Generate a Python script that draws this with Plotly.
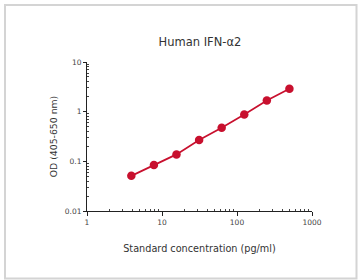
import plotly.graph_objects as go

concentration = [3.9, 7.8, 15.6, 31.25, 62.5, 125, 250, 500]
od = [0.051, 0.084, 0.138, 0.268, 0.474, 0.878, 1.68, 2.89]
x_tickvals = [1, 10, 100, 1000]
x_ticktext = ["1", "10", "100", "1000"]
y_tickvals = [0.01, 0.1, 1, 10]
y_ticktext = ["0.01", "0.1", "1", "10"]

RED = "#c8102e"
W, H = 358, 280
ML, MR, MT, MB = 87, 46, 62, 69

fig = go.Figure()
fig.add_trace(go.Scatter(
    x=concentration, y=od, mode="lines+markers",
    line=dict(color=RED, width=1.7),
    marker=dict(color=RED, size=8.5),
    showlegend=False,
))

font = "DejaVu Sans, Verdana, sans-serif"
pw = W - ML - MR
ph = H - MT - MB

fig.update_layout(
    width=W, height=H,
    margin=dict(l=ML, r=MR, t=MT, b=MB, pad=0),
    paper_bgcolor="white", plot_bgcolor="white",
    font=dict(family=font, color="#333333"),
    title=dict(text="Human IFN-α2", x=(200) / W, xanchor="center",
               y=1 - 42 / H, yanchor="middle", font=dict(size=11.5, color="#333333")),
    xaxis=dict(
        type="log", range=[0, 3], tickvals=x_tickvals, ticktext=x_ticktext,
        showline=True, linecolor="#222", linewidth=1, showgrid=False, zeroline=False,
        ticks="outside", ticklen=4, tickcolor="#222", tickfont=dict(size=7.5, color="#444"),
        minor=dict(ticks="inside", ticklen=2, tickcolor="#444", showgrid=False,
                   tickvals=[a * b for b in (1, 10, 100) for a in range(2, 10)]),
        title=dict(text="Standard concentration (pg/ml)", font=dict(size=9.7, color="#333"), standoff=19),
    ),
    yaxis=dict(
        type="log", range=[-2, 1], tickvals=y_tickvals, ticktext=y_ticktext,
        showline=True, linecolor="#222", linewidth=1, showgrid=False, zeroline=False,
        ticks="outside", ticklen=3, tickcolor="#222", tickfont=dict(size=7.5, color="#444"),
        minor=dict(ticks="inside", ticklen=2, tickcolor="#444", showgrid=False,
                   tickvals=[a * b for b in (0.01, 0.1, 1) for a in range(2, 10)]),
        title=dict(text="OD (405-650 nm)", font=dict(size=9.3, color="#333"), standoff=5),
    ),
    shapes=[dict(
        type="rect", xref="paper", yref="paper",
        x0=(5 - ML) / pw, x1=(356.5 - ML) / pw,
        y0=-(278.5 - (H - MB)) / ph, y1=1 + (MT - 5) / ph,
        line=dict(color="#d4d4d4", width=2), fillcolor="rgba(0,0,0,0)", layer="below",
    )],
)

fig.write_html("out.html", config={"displayModeBar": False},
               post_script="document.body.style.margin='0';document.body.style.overflow='hidden';")
